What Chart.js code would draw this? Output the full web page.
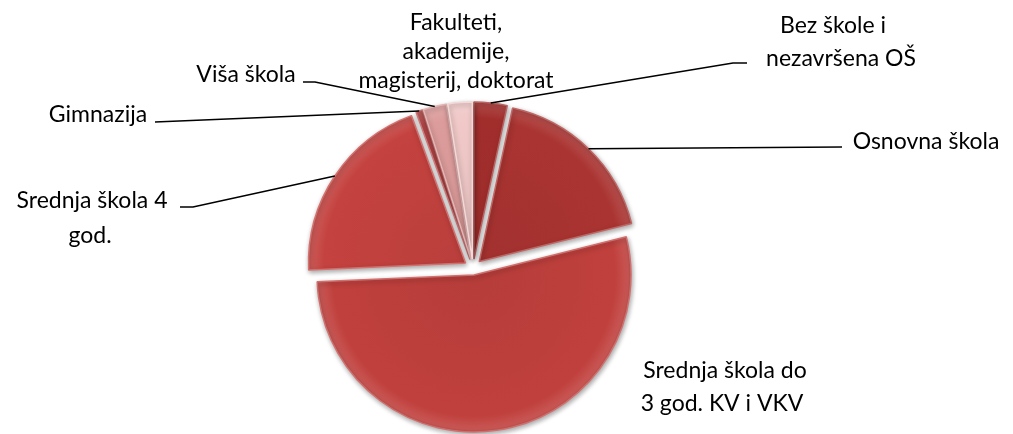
<!DOCTYPE html>
<html>
  <head>
    <title>
      Obrazovna struktura
    </title>
    <script src="https://cdn.jsdelivr.net/npm/chart.js"></script>
    <style>
      body { margin: 0; background: #fff; }
    </style>
  </head>
  <body>
    <div>
      <canvas id="myChart" width="1013" height="434"></canvas>
    </div>
    <script>
      'use strict'
      // slices, clockwise from 12 o'clock
      const categories = [
        ['Bez škole i', 'nezavršena OŠ'],
        ['Osnovna škola'],
        ['Srednja škola do', '3 god. KV i VKV'],
        ['Srednja škola 4', 'god.'],
        ['Gimnazija'],
        ['Viša škola'],
        ['Fakulteti,', 'akademije,', 'magisterij, doktorat'],
      ];
      const shares = [3.4, 17.7, 53.2, 20.1, 0.7, 2.4, 2.5];
      const sliceColors = ['#a22e2c', '#aa3431', '#c0403d', '#c4423f', '#b9484a', '#dc9c9b', '#f0c9c8'];
      // how far each slice is pulled out of the pie, px
      const explode = [9, 9, 7, 9, 9, 9, 9];

      // where each label's lines sit (centre x, baseline y) and the bend of its leader line
      const labelLayout = [
        { lines: [[833, 33], [841, 66]], leader: [[747, 63], [733, 63]] },
        { lines: [[926, 149]], leader: [[842, 147]] },
        { lines: [[725, 378], [722, 411]], leader: null },
        { lines: [[92, 208], [90, 243]], leader: [[180, 207], [193, 207]] },
        { lines: [[98, 122]], leader: [[155, 122]] },
        { lines: [[246, 82]], leader: [[303, 82], [315, 82]] },
        { lines: [[456, 30], [456, 59], [456, 88]], leader: null },
      ];

      function shade(hex, k) {
        const n = parseInt(hex.slice(1), 16);
        const c = [n >> 16, (n >> 8) & 255, n & 255].map(v => Math.round(k > 0 ? v + (255 - v) * k : v * (1 + k)));
        return `rgb(${c[0]},${c[1]},${c[2]})`;
      }

      // draws every arc pulled out along its mid angle, with a soft shadow
      const explodePlugin = {
        id: 'explode',
        beforeDatasetDraw(chart, args) {
          const ctx = chart.ctx;
          args.meta.data.forEach((arc, i) => {
            const mid = (arc.startAngle + arc.endAngle) / 2;
            ctx.save();
            ctx.shadowColor = 'rgba(0,0,0,0.35)';
            ctx.shadowBlur = 5;
            ctx.shadowOffsetX = 1;
            ctx.shadowOffsetY = 2;
            ctx.translate(Math.cos(mid) * explode[i], Math.sin(mid) * explode[i]);
            arc.draw(ctx);
            ctx.restore();
          });
          return false;
        }
      };

      const labelPlugin = {
        id: 'outsideLabels',
        afterDraw(chart) {
          const ctx = chart.ctx;
          const meta = chart.getDatasetMeta(0);
          ctx.save();
          ctx.font = '23px Lato';
          ctx.fillStyle = '#000';
          ctx.textAlign = 'center';
          ctx.textBaseline = 'alphabetic';
          ctx.strokeStyle = '#000';
          ctx.lineWidth = 1.6;

          meta.data.forEach((arc, i) => {
            const layout = labelLayout[i];
            categories[i].forEach((line, j) => {
              ctx.fillText(line, layout.lines[j][0], layout.lines[j][1]);
            });
            if (!layout.leader) return;

            const mid = (arc.startAngle + arc.endAngle) / 2;
            const r = arc.outerRadius + explode[i];

            ctx.beginPath();
            ctx.moveTo(layout.leader[0][0], layout.leader[0][1]);
            layout.leader.slice(1).forEach(pt => ctx.lineTo(pt[0], pt[1]));
            ctx.lineTo(arc.x + Math.cos(mid) * r, arc.y + Math.sin(mid) * r);
            ctx.stroke();
          });
          ctx.restore();
        }
      };

      const ctx = document.getElementById('myChart');

      new Chart(ctx, {
        type: 'pie',
        data: {
          labels: categories.map(l => l.join(' ')),
          datasets: [{
            data: shares,
            backgroundColor: c => {
              const base = sliceColors[c.dataIndex];
              const area = c.chart.chartArea;
              if (!area) return base;
              const cx = (area.left + area.right) / 2;
              const cy = (area.top + area.bottom) / 2;
              const g = c.chart.ctx.createRadialGradient(cx, cy, 0, cx, cy, 166);
              g.addColorStop(0, shade(base, -0.05));
              g.addColorStop(0.85, base);
              g.addColorStop(0.93, shade(base, 0.12));
              g.addColorStop(1, shade(base, -0.15));
              return g;
            },
            borderColor: sliceColors.map(c => shade(c, 0.25)),
            borderWidth: 1.5,
            radius: 157,
          }]
        },
        options: {
          responsive: false,
          animation: false,
          layout: {
            padding: { left: 0, right: 67, top: 102, bottom: 0 }
          },
          plugins: {
            legend: { display: false },
            tooltip: { enabled: false },
          }
        },
        plugins: [explodePlugin, labelPlugin]
      });
    </script>
  </body>
</html>
